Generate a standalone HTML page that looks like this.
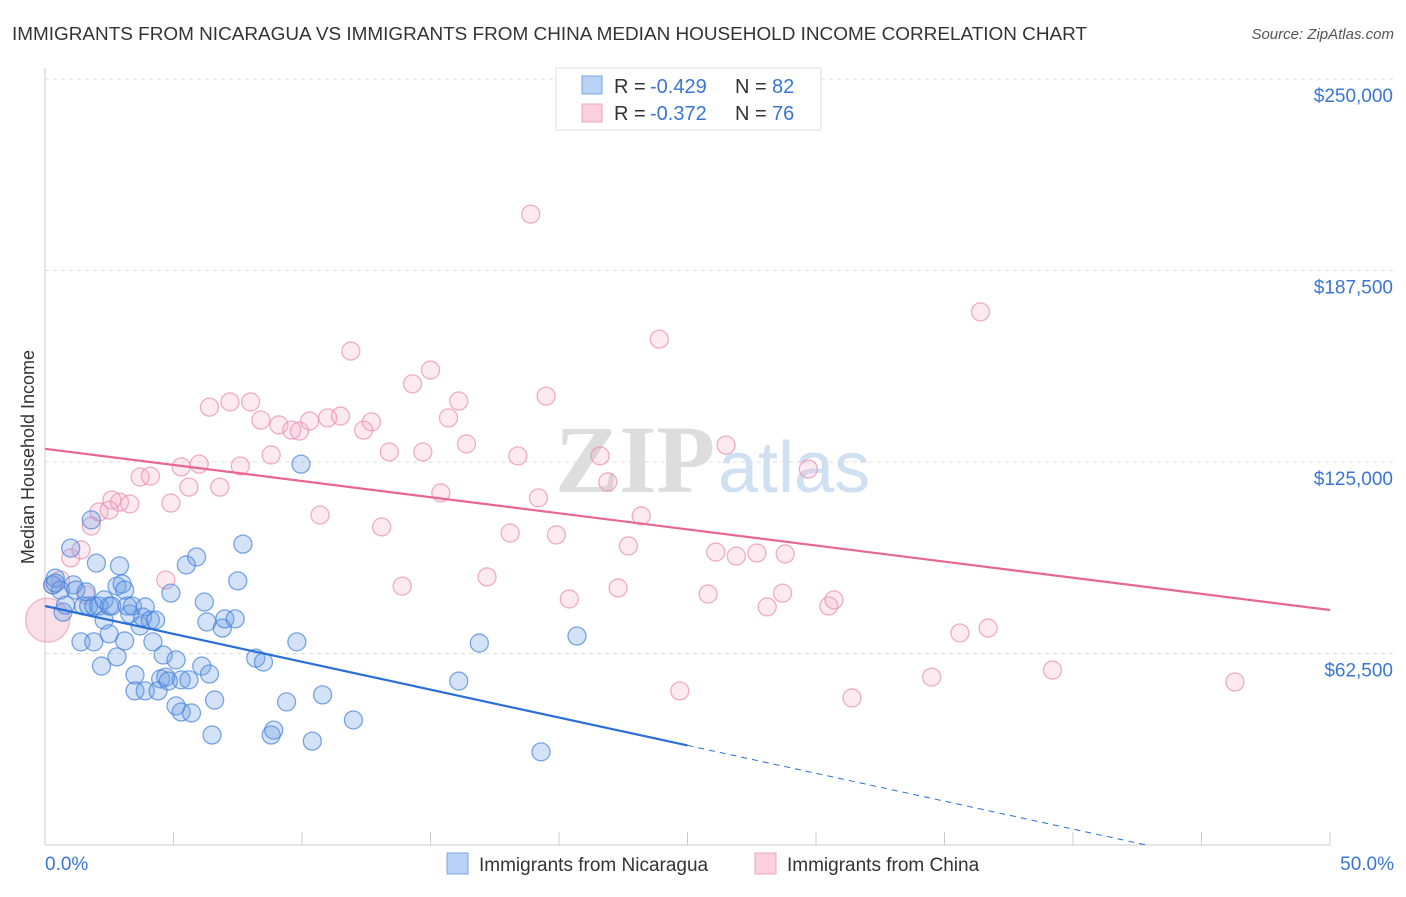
<!DOCTYPE html>
<html><head><meta charset="utf-8"><style>
body{margin:0;background:#fff;font-family:"Liberation Sans",sans-serif;}
#wrap{position:relative;width:1406px;height:892px;}
</style></head><body>
<div id="wrap">
<svg id="svg" width="1406" height="892" xmlns="http://www.w3.org/2000/svg">
<text x="12" y="40" font-size="18" fill="#333" textLength="1075" lengthAdjust="spacingAndGlyphs">IMMIGRANTS FROM NICARAGUA VS IMMIGRANTS FROM CHINA MEDIAN HOUSEHOLD INCOME CORRELATION CHART</text>
<text x="1394" y="39" font-size="15" fill="#555" font-style="italic" text-anchor="end">Source: ZipAtlas.com</text>
<text x="555" y="492" font-size="96" fill="#ddd" font-family="Liberation Serif" font-weight="bold">ZIP</text>
<text x="718" y="492" font-size="72" fill="#cfe0f3">atlas</text>
<g id="grid"></g><g id="marks"></g>
<text transform="translate(34,457) rotate(-90)" font-size="18" fill="#333" text-anchor="middle">Median Household Income</text>
<text x="45" y="870" font-size="19" fill="#3a75d6">0.0%</text>
<text x="1394" y="870" font-size="19" fill="#3a75d6" text-anchor="end">50.0%</text>
<g>
<rect x="556" y="68" width="265" height="62" fill="#fff" stroke="#ddd"/>
<rect x="582" y="76" width="20" height="18" fill="#b8d2f5" stroke="#7aa6e3"/>
<rect x="582" y="104" width="20" height="18" fill="#fcd0de" stroke="#eea3bd"/>
<text x="614" y="93" font-size="20" fill="#333">R =</text>
<text x="650" y="93" font-size="20" fill="#3a75d6">-0.429</text>
<text x="735" y="93" font-size="20" fill="#333">N =</text>
<text x="772" y="93" font-size="20" fill="#3a75d6">82</text>
<text x="614" y="120" font-size="20" fill="#333">R =</text>
<text x="650" y="120" font-size="20" fill="#3a75d6">-0.372</text>
<text x="735" y="120" font-size="20" fill="#333">N =</text>
<text x="772" y="120" font-size="20" fill="#3a75d6">76</text>
</g>
<g>
<rect x="447" y="853" width="21" height="21" fill="#b8d2f5" stroke="#7aa6e3"/>
<text x="479" y="871" font-size="19" fill="#333">Immigrants from Nicaragua</text>
<rect x="755" y="853" width="21" height="21" fill="#fcd0de" stroke="#eea3bd"/>
<text x="787" y="871" font-size="19" fill="#333">Immigrants from China</text>
</g>
</svg></div>
<script>
const yTicks=[62.5,125,187.5,250];
const yTickLabels=["$62,500","$125,000","$187,500","$250,000"];
const xTicks=[0,5,10,15,20,25,30,35,40,45,50];
const blueX=[0.3,0.4,0.6,0.7,1.0,1.1,1.2,1.4,1.5,1.7,1.8,1.9,1.9,2.0,2.1,2.2,2.3,2.3,2.5,2.5,2.6,2.8,2.8,2.9,3.0,3.1,3.2,3.3,3.4,3.5,3.5,3.7,3.8,3.9,3.9,4.1,4.2,4.3,4.4,4.5,4.6,4.7,4.8,4.9,5.1,5.1,5.3,5.3,5.5,5.6,5.7,5.9,6.1,6.2,6.3,6.4,6.5,6.6,6.9,7.0,7.4,7.5,7.7,8.2,8.5,8.8,8.9,9.4,9.8,9.96,10.4,10.8,12.0,16.1,16.9,19.3,20.7,0.4,0.8,1.6,3.1];
const blueY=[84.9,87.1,83.2,76.0,96.9,84.9,83.2,66.3,78.0,78.0,106.1,66.3,78.0,92.0,78.0,58.4,80.0,73.4,78.0,68.9,78.0,84.5,61.4,91.1,85.2,66.6,78.0,75.4,78.0,55.5,50.3,71.5,74.4,50.3,77.7,73.4,66.3,73.4,50.3,54.2,62.0,54.8,53.5,82.2,60.4,45.4,53.9,43.4,91.4,53.9,43.1,94.0,58.4,79.3,72.8,55.8,35.9,47.3,70.8,73.8,73.8,86.2,98.2,61.0,59.7,35.9,37.5,46.7,66.3,124.3,33.9,49.0,40.8,53.5,65.9,30.4,68.2,85.5,78.3,82.6,83.2];
const pinkX=[0.3,0.6,1.0,1.4,1.8,2.1,2.6,2.9,3.3,3.7,4.1,4.7,4.9,5.3,5.6,6.0,6.4,6.8,7.2,7.6,8.0,8.4,8.8,9.1,9.6,9.9,10.3,10.7,11.0,11.5,11.9,12.4,12.7,13.1,13.4,13.9,14.3,14.7,15.0,15.4,15.7,16.1,16.4,17.2,18.1,18.4,18.9,19.2,19.5,19.9,20.4,21.6,21.9,22.3,22.7,23.2,23.9,24.7,25.8,26.1,26.5,26.9,27.7,28.1,28.7,28.8,29.7,30.5,30.7,31.4,34.5,35.6,36.4,36.7,39.2,46.3,1.6,2.5];
const pinkY=[84.9,86.5,93.7,96.3,104.1,108.7,112.6,111.9,111.3,120.1,120.4,86.5,111.6,123.4,116.8,124.3,142.9,116.8,144.6,123.7,144.6,138.7,127.3,137.1,135.4,135.1,138.4,107.7,139.4,140.0,161.2,135.4,138.1,103.8,128.3,84.5,150.5,128.3,155.0,114.9,139.4,144.9,130.9,87.5,101.8,127.0,205.9,113.3,146.5,101.2,80.3,127.0,118.5,83.9,97.6,107.4,165.1,50.3,81.9,95.6,130.5,94.3,95.3,77.7,82.2,95.0,122.7,78.0,80.0,48.0,54.8,69.2,174.0,70.8,57.1,53.2,81.6,109.3];
const bigPink=[0.1,73.4];
const blueLine=[78.0,-1.82];
const pinkLine=[129.3,-1.052];
const NS="http://www.w3.org/2000/svg";
const X=v=>45+v*25.7, Y=v=>845-v*3.064;
const grid=document.getElementById('grid'), marks=document.getElementById('marks');
function mk(tag,at,parent){const e=document.createElementNS(NS,tag);for(const k in at)e.setAttribute(k,at[k]);parent.appendChild(e);return e;}
let ax=mk('line',{x1:45,y1:68,x2:45,y2:845,stroke:'#ccc'},grid);


let bx=mk('line',{x1:45,y1:845,x2:1330,y2:845,stroke:'#ccc'},grid);


yTicks.forEach((t,i)=>{
 let g=mk('line',{x1:45,y1:Y(t),x2:1394,y2:Y(t),stroke:'#ddd','stroke-dasharray':'4,4'},grid);
 
 
 let l=mk('text',{x:1393,y:Y(t)+23,'font-size':19,fill:'#3a75d6','text-anchor':'end'},grid);
 l.textContent=yTickLabels[i];
 
 
});
xTicks.forEach(t=>{
 let l=mk('line',{x1:X(t),y1:832,x2:X(t),y2:845,stroke:'#ccc'},grid);
 
 
});
function dot(x,y,r,fill,stroke,name){
 let c=mk('circle',{cx:X(x),cy:Y(y),r:r,fill:fill,stroke:stroke,'stroke-width':1.3},marks);
 
 
}
dot(bigPink[0],bigPink[1],22,'rgba(240,150,180,0.3)','rgba(233,140,175,0.6)','china-point-large');
pinkX.forEach((x,i)=>dot(x,pinkY[i],9,'rgba(245,170,195,0.25)','rgba(233,140,175,0.7)','china-point'));
blueX.forEach((x,i)=>dot(x,blueY[i],9,'rgba(110,160,230,0.3)','rgba(70,130,220,0.7)','nicaragua-point'));
let pl=mk('line',{x1:X(0),y1:Y(pinkLine[0]),x2:X(50),y2:Y(pinkLine[0]+pinkLine[1]*50),stroke:'#e8668f','stroke-width':2.2},marks);


let bl=mk('line',{x1:X(0),y1:Y(blueLine[0]),x2:X(25),y2:Y(blueLine[0]+blueLine[1]*25),stroke:'#2a6fd8','stroke-width':2.2},marks);


const xEnd=-blueLine[0]/blueLine[1];
let bd=mk('line',{x1:X(25),y1:Y(blueLine[0]+blueLine[1]*25),x2:X(xEnd),y2:Y(0),stroke:'#2a6fd8','stroke-width':1,'stroke-dasharray':'6,5'},marks);


</script>
</body></html>
